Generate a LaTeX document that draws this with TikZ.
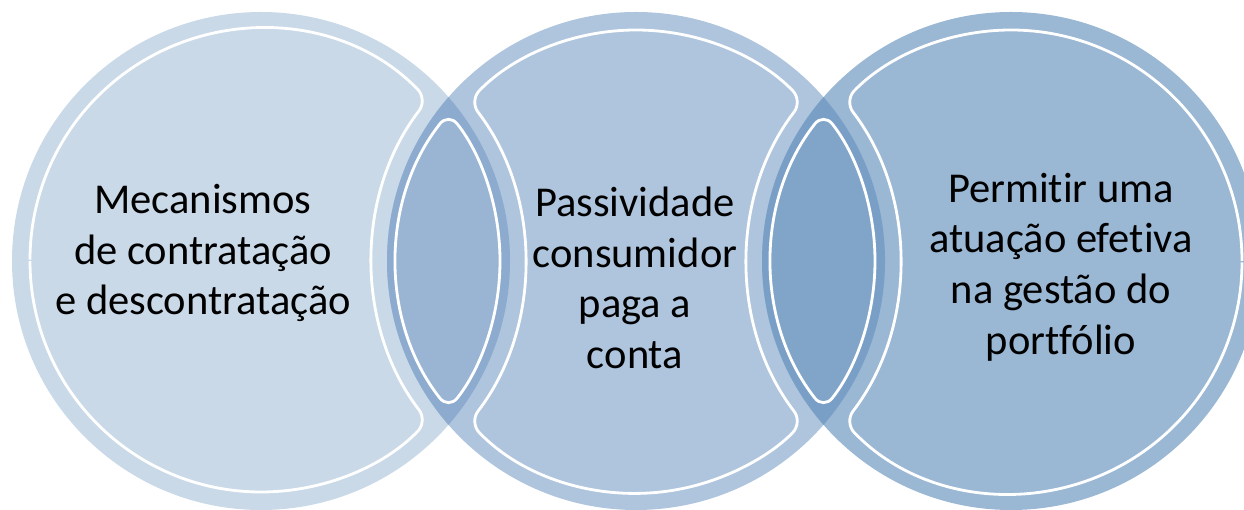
\documentclass[tikz,border=0pt]{standalone}
\usepackage{fontspec}
\setmainfont{Carlito}[Ligatures=NoCommon]
\definecolor{fillA}{HTML}{C9D9E8}
\definecolor{fillB}{HTML}{AEC5DD}
\definecolor{fillC}{HTML}{9AB7D4}
\definecolor{lensAB}{HTML}{8CABCE}
\definecolor{lensABin}{HTML}{99B5D3}
\definecolor{lensBC}{HTML}{7A9FC6}
\definecolor{lensBCin}{HTML}{80A5C9}
\begin{document}
\begin{tikzpicture}[x=0.02cm, y=0.02cm,
    rim/.style={draw=white, line width=1.6pt, rounded corners=8},
    txt/.style={align=center, font=\fontsize{24.2}{28.8}\selectfont}]

    \useasboundingbox (0,0) rectangle (1244,510);
    \clip (0,0) rectangle (1244,510);

    \coordinate (cA) at (261,249);
    \coordinate (cB) at (636,249);
    \coordinate (cC) at (1011,249);

    % the three discs
    \fill[fillA] (cA) circle[radius=249];
    \fill[fillB] (cB) circle[radius=249];
    \fill[fillC] (cC) circle[radius=249];
    \begin{scope}
        \clip (cA) circle[radius=249];
        \fill[lensAB] (cB) circle[radius=249];
    \end{scope}
    \begin{scope}
        \clip (cB) circle[radius=249];
        \fill[lensBC] (cC) circle[radius=249];
    \end{scope}

    % inner white outlines (d = 375)
    \draw[rim] (cA) ++(180:231) arc[start angle=180, end angle=316.14, radius=231]
        arc[start angle=217.50, end angle=142.50, radius=264]
        arc[start angle=43.86, end angle=180, radius=231];
    \draw[rim] (cB) ++(90:231) arc[start angle=90, end angle=136.14, radius=231]
        arc[start angle=37.50, end angle=-37.50, radius=264]
        arc[start angle=223.86, end angle=316.14, radius=231]
        arc[start angle=217.50, end angle=142.50, radius=264]
        arc[start angle=43.86, end angle=90, radius=231];
    \draw[rim] (cC) ++(0:231) arc[start angle=0, end angle=136.14, radius=231]
        arc[start angle=37.50, end angle=-37.50, radius=264]
        arc[start angle=223.86, end angle=360, radius=231];
    \draw[rim, fill=lensABin] (cA) ++(0:239) arc[start angle=0, end angle=38.30, radius=239]
        arc[start angle=141.70, end angle=218.30, radius=239]
        arc[start angle=-38.30, end angle=0, radius=239];
    \draw[rim, fill=lensBCin] (cB) ++(0:239) arc[start angle=0, end angle=38.30, radius=239]
        arc[start angle=141.70, end angle=218.30, radius=239]
        arc[start angle=-38.30, end angle=0, radius=239];

    \node[txt] (txtA) at (203,257) {Mecanismos\\de contratação\\e descontratação};
    \node[txt] (txtB) at (635,232) {Passividade\\consumidor\\paga a\\conta};
    \node[txt] (txtC) at (1061,243) {Permitir uma\\atuação efetiva\\na gestão do\\portfólio};
\end{tikzpicture}
\end{document}
